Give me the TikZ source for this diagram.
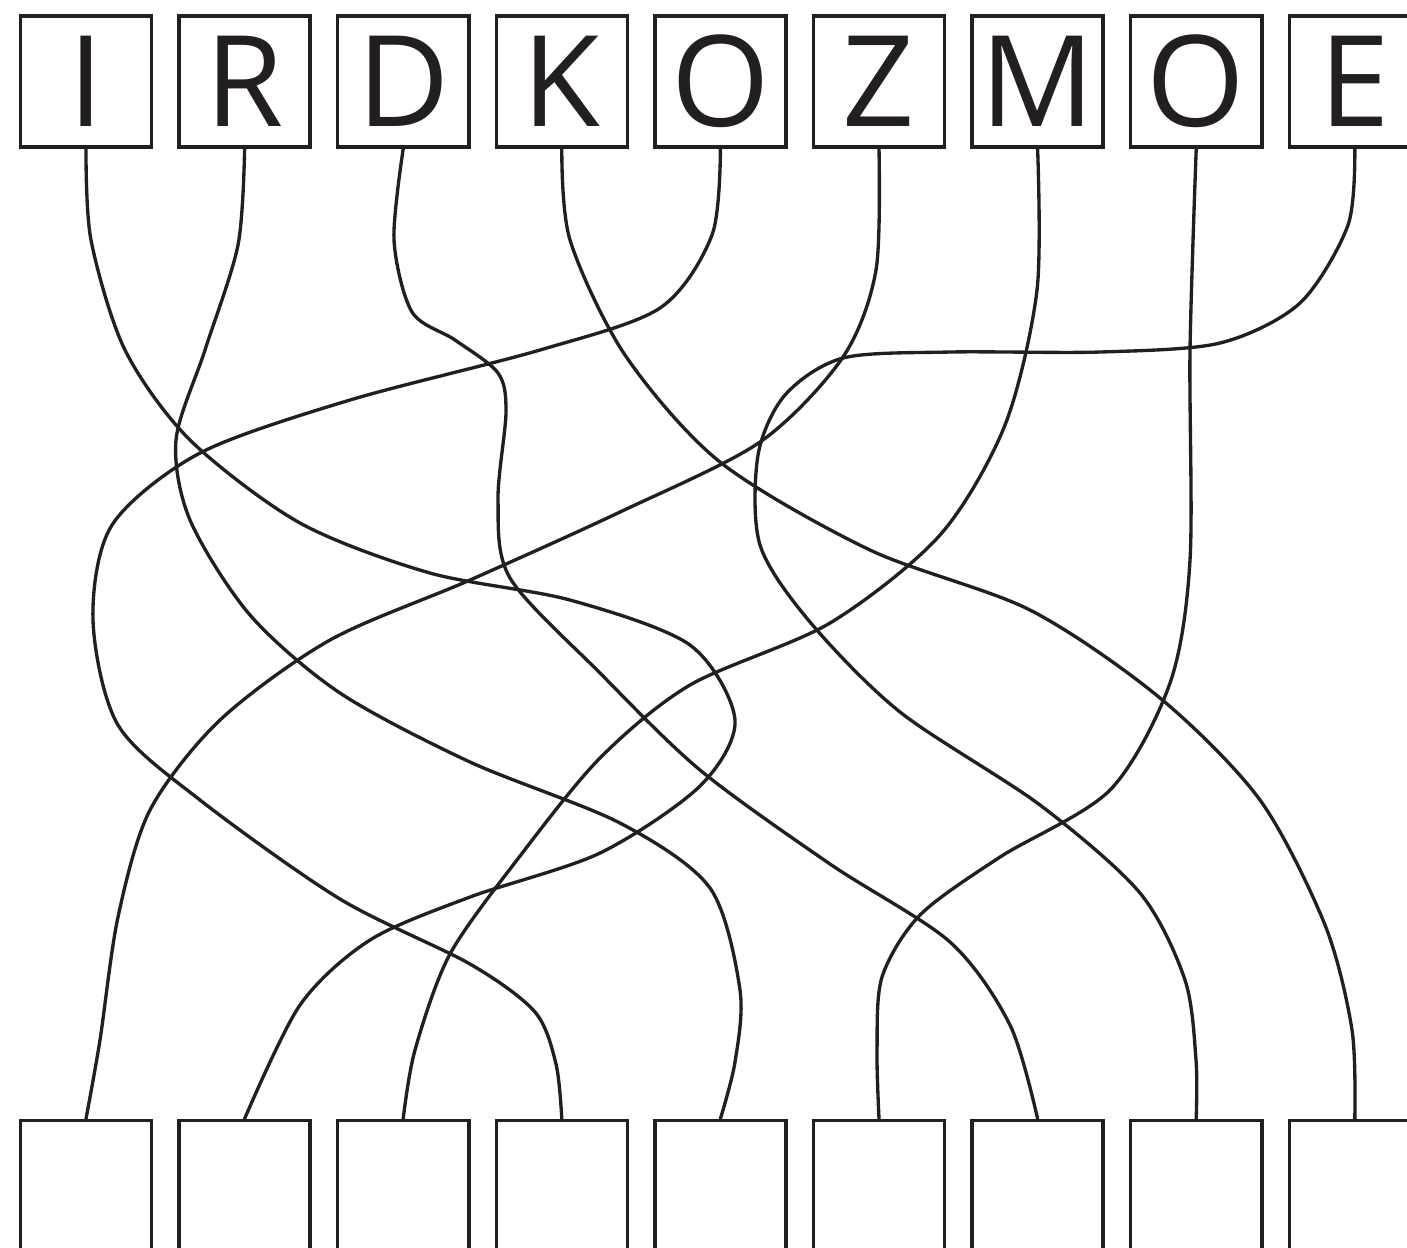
\documentclass[tikz,border=0pt]{standalone}
\usepackage{fontspec}
\usepackage{xcolor}
\usepackage{tikz}
\newfontfamily\letterfont{Open Sans}
\definecolor{WireBlack}{RGB}{35,31,32}

\begin{document}
\begin{tikzpicture}[x=0.01cm, y=-0.01cm,
          cell/.style={rectangle, draw=WireBlack, line width=1pt,
                       minimum width=1.31cm, minimum height=1.31cm,
                       inner sep=0pt, text=WireBlack,
                       font=\letterfont\fontsize{36}{36}\selectfont},
          wire/.style={WireBlack, line width=0.95pt, line cap=round}
        ]
        \useasboundingbox (0,0) rectangle (1407,1247);
        \clip (0,0) rectangle (1407,1247);

        % Letter cells on top
        \foreach \i/\l in {1/I, 2/R, 3/D, 4/K, 5/O, 6/Z, 7/M, 8/O, 9/E} {
          \node[cell] (t\i) at ({86+158.6*(\i-1)}, 81.5) {\l};
        }
        % Empty cells below
        \foreach \i in {1,...,9} {
          \node[cell] (b\i) at ({86+158.6*(\i-1)}, 1186) {};
        }

        % I -> 2
        \draw[wire] plot[smooth] coordinates {(t1.south) (91,240) (125,350)
              (190,440) (300,523) (430,573) (570,600) (690,645) (735,720)
              (700,786) (600,853) (470,897) (370,940) (300,1005) (b2.north)};
        % R -> 5
        \draw[wire] plot[smooth] coordinates {(t2.south) (238,245) (205,350)
              (176,440) (190,520) (250,615) (340,693) (470,762) (620,823)
              (710,888) (740,990) (735,1062) (b5.north)};
        % D -> 7
        \draw[wire] plot[smooth] coordinates {(t3.south) (394,240) (412,312)
              (455,340) (498,373) (506,412) (498,500) (510,578) (600,673)
              (700,770) (830,864) (950,942) (1010,1025) (b7.north)};
        % K -> 9
        \draw[wire] plot[smooth] coordinates {(t4.south) (570,240) (625,355)
              (720,462) (870,550) (1030,610) (1160,698) (1260,800)
              (1325,925) (1352,1030) (b9.north)};
        % O -> 4
        \draw[wire] plot[smooth] coordinates {(t5.south) (712,235) (660,308)
              (540,350) (350,400) (200,453) (112,525) (93,620) (118,725)
              (200,800) (340,899) (470,964) (535,1012) (556,1064) (b4.north)};
        % Z -> 1
        \draw[wire] plot[smooth] coordinates {(t6.south) (876,270) (843,357)
              (760,442) (620,512) (470,580) (330,640) (220,720) (150,810)
              (118,917) (100,1040) (b1.north)};
        % M -> 3
        \draw[wire] plot[smooth] coordinates {(t7.south) (1037,290)
              (1005,425) (940,535) (830,623) (690,685) (600,758) (520,856)
              (450,954) (415,1050) (b3.north)};
        % O -> 6
        \draw[wire] plot[smooth] coordinates {(t8.south) (1190,350)
              (1190,560) (1170,683) (1110,790) (1000,857) (920,915)
              (882,977) (877,1050) (b6.north)};
        % E -> 8
        \draw[wire] plot[smooth] coordinates {(t9.south) (1348,225)
              (1300,303) (1220,343) (1100,352) (950,352) (843,358) (785,395)
              (758,455) (760,545) (810,622) (900,712) (1040,805) (1140,893)
              (1185,980) (1196,1060) (b8.north)};
      \end{tikzpicture}
\end{document}
